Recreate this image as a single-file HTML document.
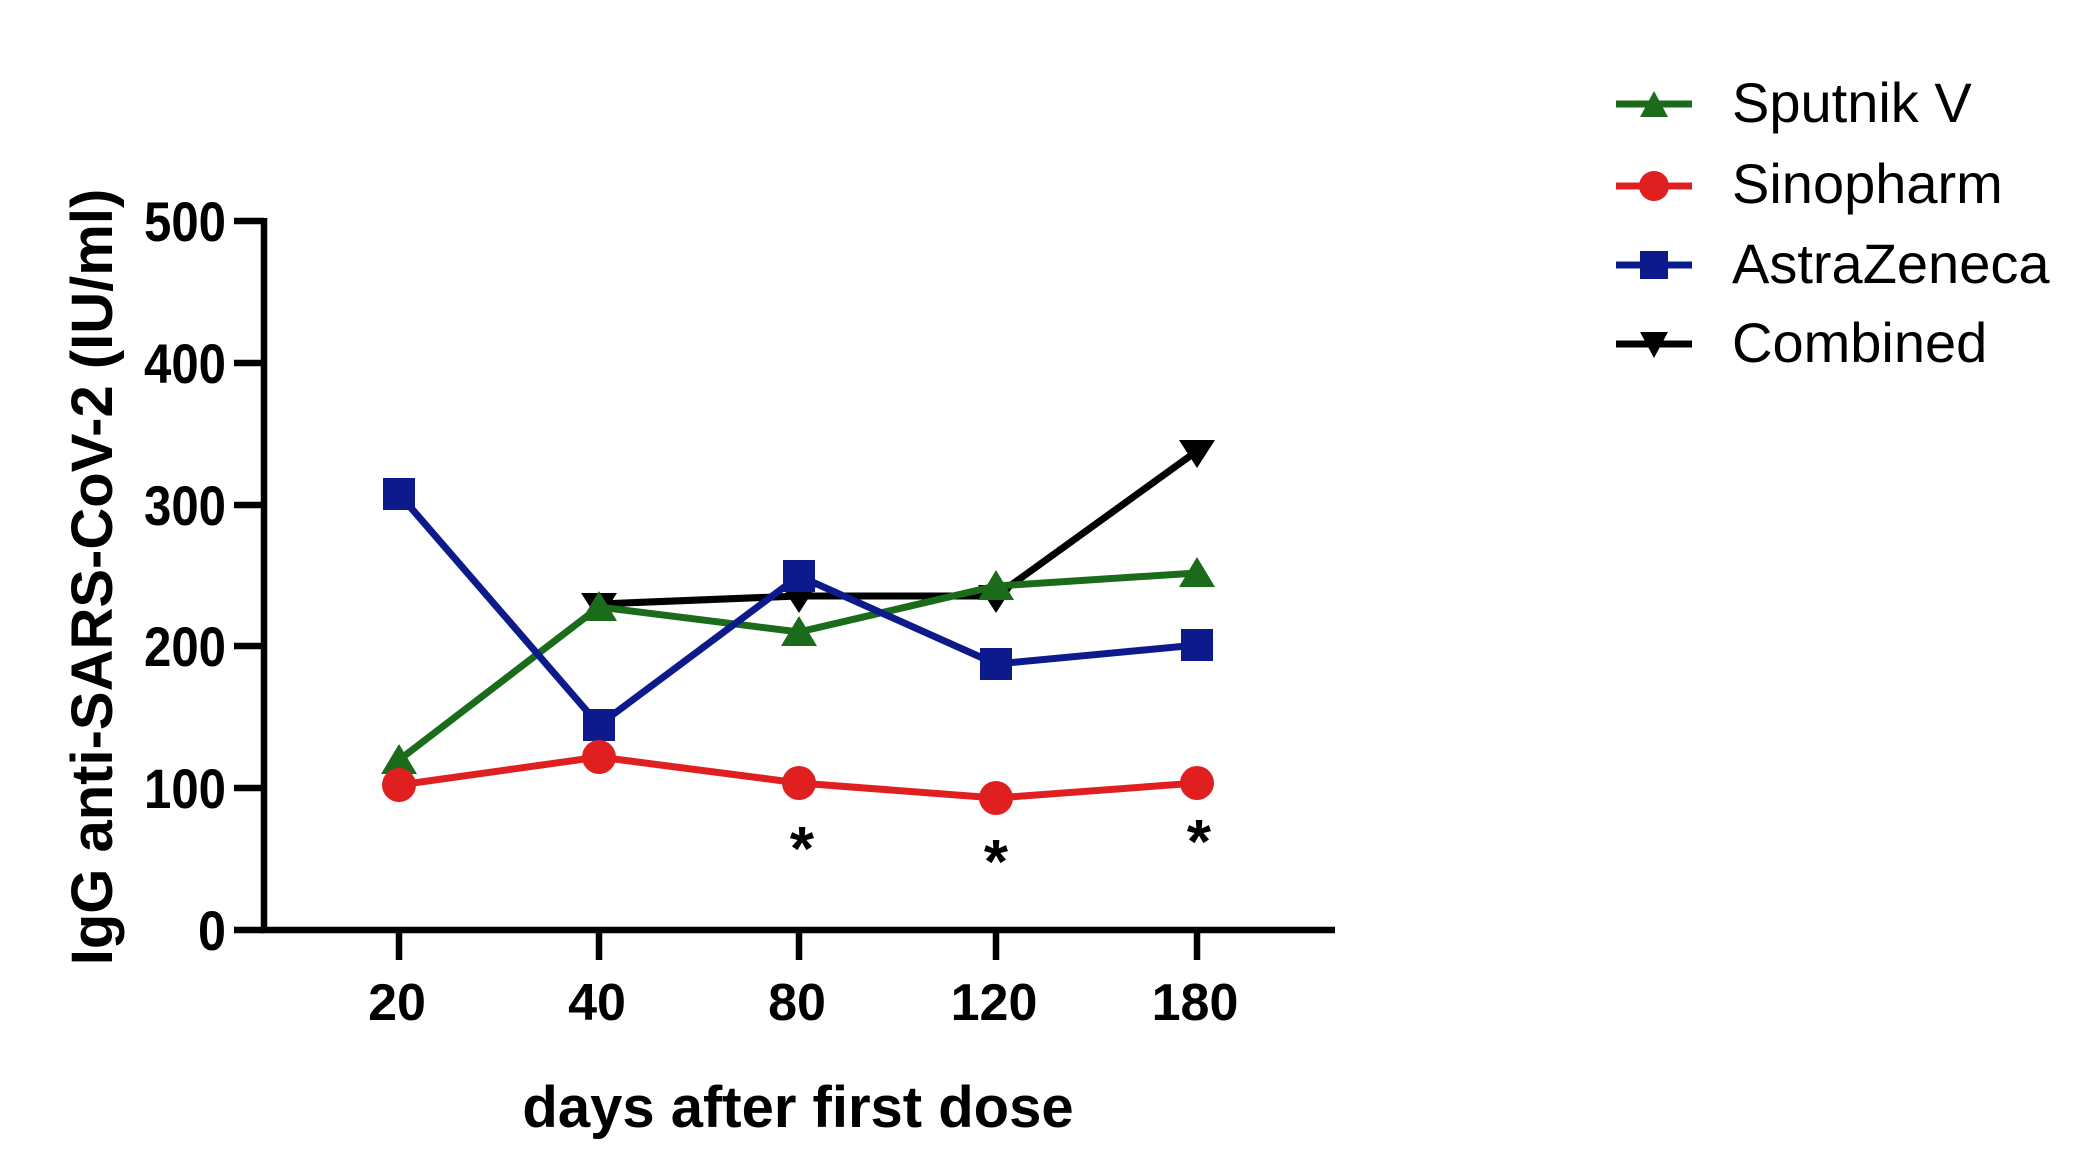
<!DOCTYPE html>
<html><head><meta charset="utf-8"><style>body{margin:0;background:#fff}</style></head><body>
<svg width="2091" height="1166" xmlns="http://www.w3.org/2000/svg" font-family="Liberation Sans, sans-serif">
<g stroke="#000" stroke-width="6.5" fill="none">
<path d="M264,218 V930 H1335"/>
<path d="M234,221 H264 M234,363 H264 M234,505 H264 M234,646 H264 M234,788 H264 M234,930 H264"/>
<path d="M399,930 V960 M599,930 V960 M799,930 V960 M996,930 V960 M1197,930 V960"/>
</g>
<g font-weight="bold" font-size="56">
<text x="144" y="241" textLength="82" lengthAdjust="spacingAndGlyphs">500</text>
<text x="144" y="383" textLength="82" lengthAdjust="spacingAndGlyphs">400</text>
<text x="144" y="525" textLength="82" lengthAdjust="spacingAndGlyphs">300</text>
<text x="144" y="666" textLength="82" lengthAdjust="spacingAndGlyphs">200</text>
<text x="144" y="808" textLength="82" lengthAdjust="spacingAndGlyphs">100</text>
<text x="198" y="950" textLength="28" lengthAdjust="spacingAndGlyphs">0</text>
</g>
<g font-weight="bold" font-size="52" text-anchor="middle">
<text x="397" y="1020">20</text><text x="597" y="1020">40</text><text x="797" y="1020">80</text>
<text x="994" y="1020">120</text><text x="1195" y="1020">180</text>
<text x="798" y="1127" font-size="58">days after first dose</text>
<text transform="translate(112,577) rotate(-90)" font-size="58">IgG anti-SARS-CoV-2 (IU/ml)</text>
<text x="802" y="870" font-size="62">*</text><text x="996" y="883" font-size="62">*</text><text x="1199" y="863" font-size="62">*</text>
</g>
<polyline points="599,604 799,596 996,596 1197,451" stroke="#000" stroke-width="7" fill="none"/>
<g fill="#000"><path d="M581,593 h36 l-18,28z M781,585 h36 l-18,28z M978,585 h36 l-18,28z M1179,440 h36 l-18,28z"/></g>
<polyline points="399,760 599,607 799,632 996,586 1197,573" stroke="#1a6b1a" stroke-width="7" fill="none"/>
<g fill="#1a6b1a"><path d="M381,774 h36 l-18,-30z M581,621 h36 l-18,-30z M781,646 h36 l-18,-30z M978,600 h36 l-18,-30z M1179,587 h36 l-18,-30z"/></g>
<polyline points="399,494 599,725 799,576 996,664 1197,645" stroke="#0d1a8c" stroke-width="7" fill="none"/>
<g fill="#0d1a8c"><rect x="383" y="478" width="32" height="32"/><rect x="583" y="709" width="32" height="32"/><rect x="783" y="560" width="32" height="32"/><rect x="980" y="648" width="32" height="32"/><rect x="1181" y="629" width="32" height="32"/></g>
<polyline points="399,785 599,757 799,783 996,798 1197,783" stroke="#e02020" stroke-width="7" fill="none"/>
<g fill="#e02020"><circle cx="399" cy="785" r="17"/><circle cx="599" cy="757" r="17"/><circle cx="799" cy="783" r="17"/><circle cx="996" cy="798" r="17"/><circle cx="1197" cy="783" r="17"/></g>
<g stroke-width="7">
<line x1="1616" y1="104" x2="1692" y2="104" stroke="#1a6b1a"/><path d="M1640,117 h28 l-14,-26z" fill="#1a6b1a"/>
<line x1="1616" y1="186" x2="1692" y2="186" stroke="#e02020"/><circle cx="1654" cy="186" r="15" fill="#e02020"/>
<line x1="1616" y1="265" x2="1692" y2="265" stroke="#0d1a8c"/><rect x="1640" y="251" width="28" height="28" fill="#0d1a8c"/>
<line x1="1616" y1="344" x2="1692" y2="344" stroke="#000"/><path d="M1640,332 h28 l-14,26z" fill="#000"/>
</g>
<g font-size="56">
<text x="1732" y="122">Sputnik V</text><text x="1732" y="203">Sinopharm</text>
<text x="1732" y="283">AstraZeneca</text><text x="1732" y="362">Combined</text>
</g>
</svg>
</body></html>
